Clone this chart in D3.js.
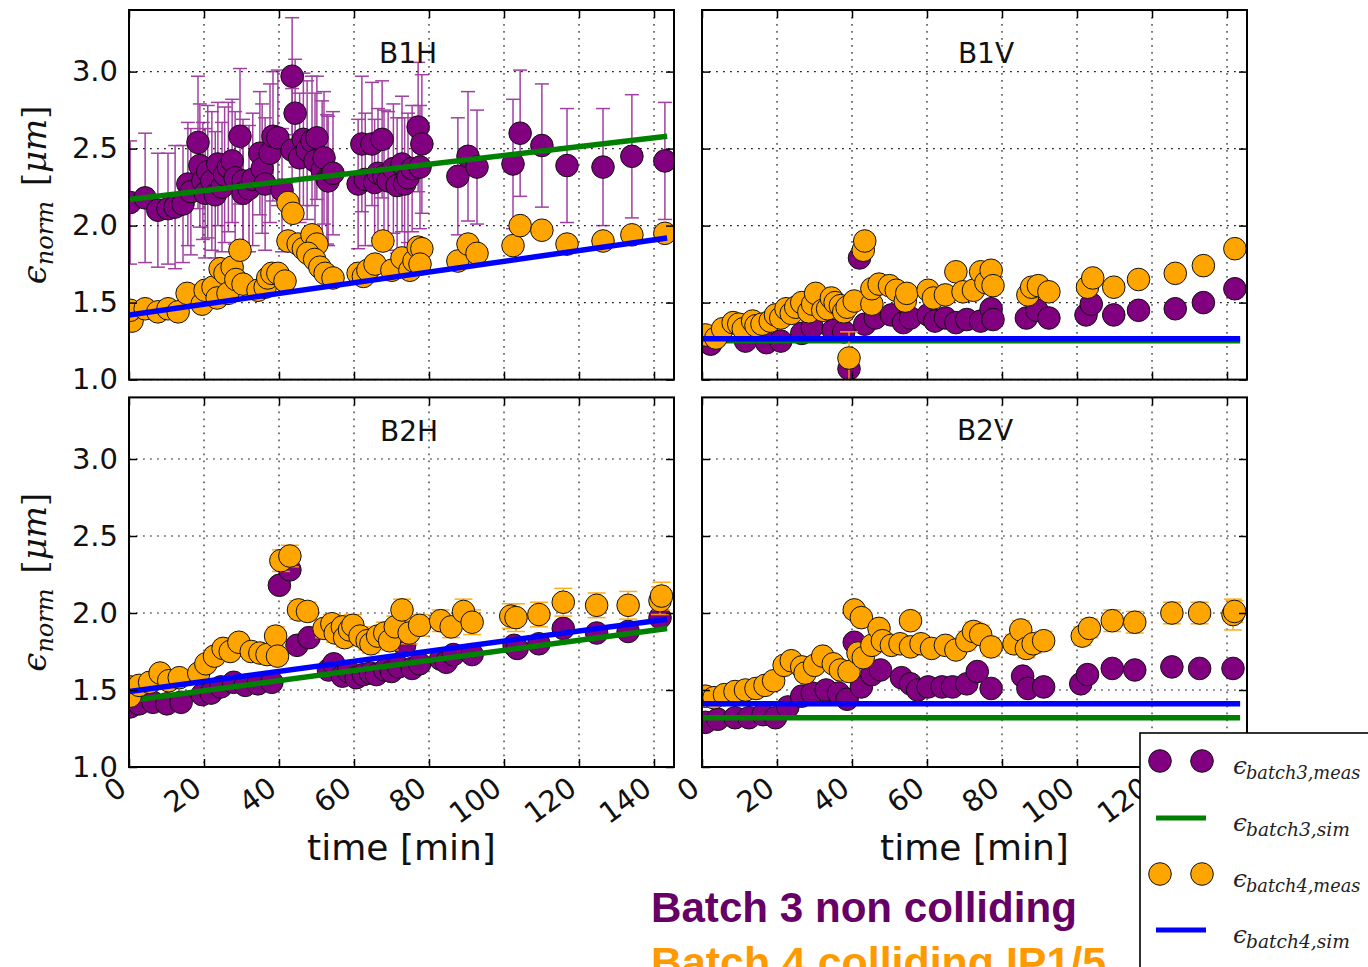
<!DOCTYPE html>
<html><head><meta charset="utf-8">
<script src="https://cdn.jsdelivr.net/npm/d3@7/dist/d3.min.js"></script>
<style>body{margin:0;background:#fff;} svg{display:block;}</style>
</head><body>
<script>
// ---------- data ----------
const timeTicks = [0, 20, 40, 60, 80, 100, 120, 140];
const yTicks = [1.0, 1.5, 2.0, 2.5, 3.0];
const panelNames = ["B1H", "B1V", "B2H", "B2V"];
const legendLabels = [["batch3,meas"], ["batch3,sim"], ["batch4,meas"], ["batch4,sim"]];
const simTime = [0, 143.5];

// [time (min), emittance (um), error]
const b1h_batch3 = [[0.3,2.15,0.40],[4.3,2.18,0.42],[7.7,2.10,0.37],[10.4,2.11,0.36],[12.3,2.12,0.40],[14.4,2.14,0.38],[15.7,2.27,0.40],[16.5,2.22,0.41],[18.4,2.54,0.43],[18.9,2.39,0.40],[19.7,2.29,0.38],[20.3,2.21,0.42],[21.0,2.35,0.43],[22.1,2.29,0.45],[23.0,2.20,0.41],[23.7,2.40,0.40],[24.8,2.25,0.42],[25.5,2.33,0.44],[26.5,2.38,0.42],[27.5,2.42,0.40],[28.3,2.31,0.43],[29.6,2.58,0.44],[30.4,2.29,0.40],[30.4,2.21,0.38],[32.0,2.24,0.41],[33.0,2.30,0.43],[34.9,2.47,0.40],[35.5,2.37,0.42],[36.3,2.27,0.43],[37.6,2.47,0.45],[38.4,2.58,0.42],[39.7,2.57,0.44],[40.8,2.23,0.40],[43.5,2.49,0.40],[43.5,2.97,0.38],[44.3,2.73,0.35],[45.5,2.44,0.42],[46.5,2.56,0.43],[47.5,2.49,0.45],[48.8,2.55,0.42],[50.1,2.57,0.40],[49.6,2.42,0.44],[51.5,2.36,0.45],[52.0,2.44,0.43],[52.8,2.30,0.42],[53.1,2.29,0.42],[54.4,2.34,0.40],[61.1,2.27,0.42],[62.1,2.53,0.44],[63.0,2.30,0.43],[64.8,2.53,0.40],[65.5,2.28,0.41],[67.5,2.56,0.38],[66.4,2.34,0.42],[68.0,2.32,0.43],[69.1,2.29,0.45],[70.5,2.37,0.42],[71.5,2.26,0.44],[72.8,2.40,0.44],[73.5,2.27,0.43],[74.4,2.31,0.42],[75.5,2.37,0.41],[77.1,2.64,0.42],[78.1,2.53,0.45],[77.6,2.38,0.40],[87.7,2.32,0.38],[90.4,2.45,0.42],[92.8,2.38,0.37],[102.4,2.40,0.42],[104.3,2.60,0.41],[110.1,2.52,0.40],[116.8,2.39,0.37],[126.4,2.38,0.38],[134.1,2.45,0.40],[142.9,2.42,0.38]];
const b1h_batch4 = [[0.8,1.38,0.02],[0.3,1.45,0.02],[4.3,1.46,0.02],[7.7,1.44,0.02],[10.4,1.46,0.02],[13.1,1.44,0.02],[15.5,1.56,0.02],[19.5,1.49,0.02],[20.3,1.58,0.02],[22.4,1.60,0.02],[23.5,1.53,0.02],[24.3,1.72,0.02],[25.6,1.69,0.02],[27.5,1.73,0.02],[26.4,1.56,0.02],[28.5,1.65,0.02],[29.6,1.84,0.02],[30.4,1.62,0.02],[34.4,1.58,0.02],[36.3,1.60,0.02],[37.0,1.66,0.02],[38.1,1.69,0.02],[39.7,1.69,0.02],[41.6,1.64,0.02],[42.4,2.15,0.02],[43.7,2.08,0.02],[42.4,1.90,0.02],[45.1,1.88,0.02],[46.5,1.85,0.02],[48.8,1.94,0.02],[50.1,1.88,0.02],[47.7,1.82,0.02],[49.5,1.78,0.02],[50.9,1.73,0.02],[52.3,1.69,0.02],[54.4,1.66,0.02],[61.1,1.69,0.02],[62.5,1.67,0.02],[63.7,1.71,0.02],[65.6,1.75,0.02],[67.7,1.90,0.02],[70.1,1.71,0.02],[72.8,1.79,0.02],[74.9,1.71,0.02],[76.0,1.77,0.02],[77.1,1.86,0.02],[78.1,1.85,0.02],[77.6,1.75,0.02],[87.7,1.77,0.02],[90.4,1.88,0.02],[92.8,1.82,0.02],[102.4,1.87,0.02],[104.3,2.00,0.02],[110.1,1.97,0.02],[116.8,1.88,0.02],[126.4,1.90,0.02],[134.1,1.94,0.02],[142.9,1.95,0.02]];
const b1v_batch3 = [[2.3,1.23,0.04],[11.6,1.25,0.04],[17.2,1.24,0.04],[21.0,1.25,0.04],[26.6,1.30,0.04],[29.4,1.34,0.04],[35.0,1.32,0.04],[37.8,1.31,0.04],[39.2,1.07,0.04],[42.0,1.79,0.05],[43.4,1.36,0.04],[46.2,1.40,0.04],[50.5,1.42,0.04],[53.7,1.37,0.04],[55.6,1.40,0.04],[60.3,1.42,0.04],[62.1,1.38,0.04],[64.9,1.40,0.04],[67.7,1.37,0.04],[70.6,1.39,0.04],[74.3,1.38,0.04],[77.1,1.46,0.04],[77.6,1.39,0.04],[86.5,1.40,0.04],[89.3,1.45,0.04],[92.5,1.40,0.04],[102.4,1.42,0.04],[103.8,1.49,0.04],[109.8,1.42,0.04],[116.4,1.45,0.04],[126.2,1.46,0.04],[133.7,1.50,0.04],[142.1,1.59,0.04]];
const b1v_batch4 = [[0.9,1.29,0.02],[3.7,1.27,0.02],[5.5,1.33,0.02],[8.3,1.37,0.02],[9.8,1.36,0.02],[11.0,1.33,0.02],[13.5,1.38,0.02],[14.4,1.35,0.02],[16.0,1.36,0.02],[18.2,1.38,0.02],[19.6,1.42,0.02],[21.0,1.40,0.02],[22.4,1.46,0.02],[23.8,1.43,0.02],[25.0,1.47,0.02],[26.6,1.50,0.02],[28.5,1.44,0.02],[29.5,1.49,0.02],[30.3,1.56,0.02],[32.2,1.45,0.02],[33.5,1.46,0.02],[34.5,1.53,0.02],[35.5,1.50,0.02],[36.9,1.48,0.02],[37.8,1.44,0.02],[38.7,1.47,0.02],[39.2,1.14,0.17],[40.6,1.51,0.02],[43.0,1.84,0.02],[43.4,1.90,0.02],[45.3,1.49,0.02],[45.3,1.59,0.02],[47.2,1.62,0.02],[50.0,1.61,0.02],[51.8,1.58,0.02],[54.2,1.51,0.02],[54.6,1.56,0.02],[60.3,1.58,0.02],[61.7,1.53,0.02],[64.9,1.55,0.02],[67.7,1.70,0.02],[69.6,1.57,0.02],[72.4,1.58,0.02],[74.3,1.70,0.02],[75.7,1.63,0.02],[77.1,1.71,0.02],[77.6,1.61,0.02],[86.9,1.55,0.02],[87.9,1.60,0.02],[89.7,1.61,0.02],[92.5,1.57,0.02],[102.8,1.60,0.02],[104.2,1.66,0.02],[109.8,1.60,0.02],[116.4,1.65,0.02],[126.2,1.69,0.02],[133.7,1.74,0.02],[142.1,1.85,0.02]];
const b2h_batch3 = [[0.3,1.39,0.04],[2.7,1.41,0.04],[6.4,1.42,0.04],[10.1,1.41,0.04],[13.9,1.42,0.04],[19.5,1.47,0.04],[21.9,1.48,0.04],[24.5,1.52,0.04],[27.9,1.55,0.04],[31.0,1.53,0.04],[34.4,1.54,0.04],[38.1,1.55,0.04],[40.1,2.18,0.05],[42.9,2.28,0.05],[44.8,1.79,0.04],[48.0,1.84,0.04],[53.2,1.63,0.04],[54.6,1.67,0.04],[56.9,1.59,0.04],[58.5,1.62,0.04],[60.6,1.58,0.04],[62.5,1.60,0.04],[64.4,1.61,0.04],[66.0,1.60,0.04],[68.2,1.63,0.04],[70.0,1.62,0.04],[71.9,1.65,0.04],[73.5,1.79,0.04],[75.5,1.64,0.04],[77.5,1.67,0.04],[83.1,1.70,0.04],[84.6,1.68,0.04],[86.5,1.73,0.04],[91.5,1.73,0.04],[102.7,1.79,0.04],[103.5,1.77,0.04],[109.3,1.80,0.04],[115.8,1.90,0.04],[124.7,1.87,0.04],[133.1,1.88,0.04],[141.6,1.97,0.04]];
const b2h_batch4 = [[0.3,1.52,0.03],[0.3,1.46,0.03],[2.7,1.53,0.03],[5.5,1.55,0.03],[8.3,1.61,0.04],[10.6,1.56,0.03],[13.4,1.58,0.03],[18.6,1.61,0.04],[20.5,1.67,0.04],[22.8,1.72,0.05],[25.1,1.77,0.05],[27.0,1.75,0.05],[29.3,1.81,0.05],[32.6,1.75,0.05],[34.9,1.74,0.05],[36.8,1.73,0.05],[39.1,1.85,0.06],[39.6,1.72,0.05],[40.5,2.34,0.07],[42.9,2.37,0.07],[45.2,2.02,0.06],[47.6,2.01,0.06],[52.0,1.90,0.06],[54.1,1.93,0.06],[55.0,1.87,0.06],[56.9,1.91,0.07],[57.5,1.84,0.06],[58.8,1.89,0.07],[59.7,1.92,0.07],[61.6,1.85,0.06],[63.5,1.82,0.06],[64.5,1.80,0.06],[66.3,1.85,0.06],[68.2,1.87,0.07],[69.5,1.82,0.06],[71.0,1.91,0.07],[72.8,2.02,0.07],[74.7,1.87,0.07],[77.5,1.92,0.07],[83.1,1.95,0.07],[85.9,1.91,0.07],[89.2,2.01,0.08],[91.5,1.94,0.08],[101.8,1.98,0.08],[103.2,1.97,0.09],[109.3,1.99,0.08],[115.8,2.07,0.09],[124.7,2.05,0.08],[133.1,2.05,0.09],[141.6,2.08,0.09],[142.0,2.11,0.09]];
const b2v_batch3 = [[0.9,1.29,0.04],[4.2,1.31,0.04],[8.8,1.32,0.04],[12.5,1.32,0.04],[16.3,1.34,0.04],[19.6,1.32,0.04],[22.9,1.39,0.04],[26.6,1.46,0.04],[29.4,1.48,0.04],[33.1,1.50,0.04],[36.4,1.48,0.04],[38.7,1.44,0.04],[40.6,1.81,0.04],[42.5,1.52,0.04],[45.3,1.60,0.04],[47.6,1.63,0.04],[53.2,1.58,0.04],[55.6,1.54,0.04],[57.5,1.50,0.04],[60.3,1.52,0.04],[64.0,1.52,0.04],[66.8,1.52,0.04],[70.6,1.54,0.04],[73.4,1.62,0.04],[77.1,1.51,0.04],[85.5,1.59,0.04],[86.9,1.51,0.04],[91.1,1.52,0.04],[101.0,1.54,0.04],[102.8,1.60,0.04],[109.4,1.64,0.04],[115.4,1.63,0.04],[125.3,1.65,0.04],[132.7,1.64,0.04],[141.6,1.64,0.04]];
const b2v_batch4 = [[0.9,1.46,0.02],[3.2,1.45,0.02],[6.0,1.47,0.02],[8.8,1.49,0.02],[11.6,1.50,0.03],[14.4,1.51,0.03],[16.8,1.53,0.03],[19.1,1.56,0.03],[21.9,1.66,0.04],[23.8,1.69,0.04],[26.6,1.65,0.04],[27.5,1.61,0.04],[30.0,1.66,0.04],[32.2,1.72,0.04],[35.0,1.67,0.04],[36.9,1.63,0.04],[39.2,1.62,0.04],[40.6,2.02,0.05],[41.6,1.74,0.04],[42.5,1.97,0.05],[43.0,1.71,0.04],[45.3,1.79,0.05],[47.2,1.90,0.05],[48.1,1.82,0.05],[50.5,1.79,0.05],[52.8,1.80,0.05],[55.6,1.95,0.05],[55.6,1.78,0.05],[58.4,1.80,0.05],[61.2,1.77,0.05],[64.9,1.79,0.05],[67.7,1.76,0.05],[70.6,1.82,0.06],[72.4,1.88,0.06],[74.3,1.86,0.06],[77.1,1.78,0.06],[83.2,1.80,0.06],[85.0,1.89,0.06],[86.5,1.77,0.06],[88.3,1.80,0.06],[91.1,1.82,0.06],[101.4,1.85,0.06],[103.3,1.90,0.06],[109.4,1.95,0.07],[115.4,1.94,0.07],[125.3,2.00,0.07],[132.7,2.00,0.07],[141.6,1.99,0.10],[142.0,2.01,0.07]];

const b1h_sim3 = [2.17, 2.58], b1h_sim4 = [1.42, 1.92];
const b1v_sim3 = [1.253, 1.253], b1v_sim4 = [1.265, 1.265];
const b2h_sim3 = [1.43, 1.90], b2h_sim4 = [1.49, 1.96];
const b2v_sim3 = [1.32, 1.32], b2v_sim4 = [1.41, 1.41];

const note1 = "Batch 3 non colliding";
const note2 = "Batch 4 colliding IP1/5";

// ---------- style ----------
const C3 = "#800080", C4 = "#FFA500", CG = "#008000", CB = "#0000FF";
const SANS = "'DejaVu Sans', sans-serif";
const SERIF = "'DejaVu Serif', 'Liberation Serif', serif";

const W = 1368, H = 967;
const PW = 545, PH = 369.6;
const svg = d3.select("body").append("svg").attr("width", W).attr("height", H)
  .style("background", "#fff");

const x = d3.scaleLinear().domain([0, 145.33]).range([0, PW]);
const y = d3.scaleLinear().domain([1.0, 3.4]).range([PH, 0]);

const panels = [
  {name: panelNames[0], ox: 129, oy: 10, b3: b1h_batch3, b4: b1h_batch4, s3: b1h_sim3, s4: b1h_sim4, showY: true, showX: false, tdx: 279, tdy: 43},
  {name: panelNames[1], ox: 702, oy: 10, b3: b1v_batch3, b4: b1v_batch4, s3: b1v_sim3, s4: b1v_sim4, showY: false, showX: false, tdx: 284, tdy: 43},
  {name: panelNames[2], ox: 129, oy: 397.4, b3: b2h_batch3, b4: b2h_batch4, s3: b2h_sim3, s4: b2h_sim4, showY: true, showX: true, tdx: 280, tdy: 34},
  {name: panelNames[3], ox: 702, oy: 397.4, b3: b2v_batch3, b4: b2v_batch4, s3: b2v_sim3, s4: b2v_sim4, showY: false, showX: true, tdx: 283, tdy: 33},
];

function drawErr(g, data, color, cap, op) {
  const eg = g.append("g").attr("stroke", color).attr("stroke-width", 1.5).attr("opacity", op);
  eg.selectAll("line.v").data(data).join("line")
    .attr("x1", d => x(d[0])).attr("x2", d => x(d[0]))
    .attr("y1", d => y(d[1] - d[2])).attr("y2", d => y(d[1] + d[2]));
  eg.selectAll("line.t").data(data).join("line")
    .attr("x1", d => x(d[0]) - cap).attr("x2", d => x(d[0]) + cap)
    .attr("y1", d => y(d[1] + d[2])).attr("y2", d => y(d[1] + d[2]));
  eg.selectAll("line.b").data(data).join("line")
    .attr("x1", d => x(d[0]) - cap).attr("x2", d => x(d[0]) + cap)
    .attr("y1", d => y(d[1] - d[2])).attr("y2", d => y(d[1] - d[2]));
}
function drawPts(g, data, color) {
  g.append("g").selectAll("circle").data(data).join("circle")
    .attr("cx", d => x(d[0])).attr("cy", d => y(d[1])).attr("r", 11.3)
    .attr("fill", color).attr("stroke", "#111").attr("stroke-width", 1);
}
function drawSim(g, vals, color) {
  const line = d3.line().x(d => x(d[0])).y(d => y(d[1]));
  g.append("path").datum(simTime.map((t, i) => [t, vals[i]]))
    .attr("d", line).attr("fill", "none").attr("stroke", color).attr("stroke-width", 5.5);
}

panels.forEach((p, i) => {
  const g = svg.append("g").attr("transform", `translate(${p.ox},${p.oy})`);
  g.append("clipPath").attr("id", "clip" + i).append("rect").attr("width", PW).attr("height", PH);

  // grid
  const grid = g.append("g").attr("stroke", "#222").attr("stroke-width", 1.2).attr("stroke-dasharray", "1.8,5.2");
  grid.selectAll("line.gv").data(timeTicks).join("line")
    .attr("x1", d => x(d)).attr("x2", d => x(d)).attr("y1", 0).attr("y2", PH);
  grid.selectAll("line.gh").data(yTicks).join("line")
    .attr("x1", 0).attr("x2", PW).attr("y1", d => y(d)).attr("y2", d => y(d));

  // data
  const dg = g.append("g").attr("clip-path", `url(#clip${i})`);
  drawErr(dg, p.b3, C3, 7, 0.75);
  drawPts(dg, p.b3, C3);
  drawSim(dg, p.s3, CG);
  drawErr(dg, p.b4, C4, 9, 0.9);
  drawPts(dg, p.b4, C4);
  drawSim(dg, p.s4, CB);

  // frame
  g.append("rect").attr("width", PW).attr("height", PH)
    .attr("fill", "none").attr("stroke", "#000").attr("stroke-width", 2);

  // axes (inward ticks)
  const styleAx = a => { a.select(".domain").remove(); a.selectAll("line").attr("stroke", "#000").attr("stroke-width", 1.5); };
  const aL = g.append("g").call(d3.axisLeft(y).tickValues(yTicks).tickSize(-8).tickPadding(11)
    .tickFormat(p.showY ? d3.format(".1f") : ""));
  styleAx(aL);
  aL.selectAll("text").style("font-family", SANS).style("font-size", "29px").attr("fill", "#111");
  const aR = g.append("g").attr("transform", `translate(${PW},0)`)
    .call(d3.axisRight(y).tickValues(yTicks).tickSize(-8).tickFormat(""));
  styleAx(aR);
  const aT = g.append("g").call(d3.axisTop(x).tickValues(timeTicks).tickSize(-8).tickFormat(""));
  styleAx(aT);
  const aB = g.append("g").attr("transform", `translate(0,${PH})`)
    .call(d3.axisBottom(x).tickValues(timeTicks).tickSize(-8).tickFormat(p.showX ? d3.format("d") : ""));
  styleAx(aB);
  aB.selectAll("text").attr("y", 0).attr("dy", "0.35em").attr("text-anchor", "end")
    .attr("transform", "translate(-7,17) rotate(-36)")
    .style("font-family", SANS).style("font-size", "29px").attr("fill", "#111");

  // title
  g.append("text").attr("x", p.tdx).attr("y", p.tdy).attr("text-anchor", "middle")
    .style("font-family", SANS).style("font-size", "28px").attr("fill", "#111")
    .attr("dy", "0.36em").text(p.name);

  // x label
  if (p.showX) {
    g.append("text").attr("x", PW / 2).attr("y", 860 - p.oy).attr("text-anchor", "middle")
      .style("font-family", SANS).style("font-size", "36px").attr("fill", "#111").text("time [min]");
  }
  // y label
  if (p.showY) {
    const t = svg.append("text").attr("transform", `translate(46,${p.oy + PH / 2}) rotate(-90)`)
      .attr("text-anchor", "middle").style("font-family", SERIF).attr("fill", "#111");
    t.append("tspan").text("ϵ").style("font-size", "34px").style("font-style", "italic");
    t.append("tspan").text("norm").style("font-size", "24px").style("font-style", "italic").attr("dy", 7);
    t.append("tspan").text(" [").style("font-size", "34px").attr("dy", -7).attr("dx", 4);
    t.append("tspan").text("μm").style("font-size", "34px").style("font-style", "italic");
    t.append("tspan").text("]").style("font-size", "34px");
  }
});

// ---------- legend ----------
const lg = svg.append("g");
lg.append("rect").attr("x", 1140).attr("y", 733).attr("width", 240).attr("height", 250)
  .attr("fill", "#fff").attr("stroke", "#000").attr("stroke-width", 1.6);
const legendItems = [
  {type: "pt", color: C3, y: 761, lab: legendLabels[0][0]},
  {type: "ln", color: CG, y: 818, lab: legendLabels[1][0]},
  {type: "pt", color: C4, y: 874, lab: legendLabels[2][0]},
  {type: "ln", color: CB, y: 930, lab: legendLabels[3][0]},
];
legendItems.forEach(it => {
  if (it.type === "pt") {
    [1160, 1202].forEach(cx => lg.append("circle").attr("cx", cx).attr("cy", it.y).attr("r", 11.3)
      .attr("fill", it.color).attr("stroke", "#111").attr("stroke-width", 1));
  } else {
    lg.append("line").attr("x1", 1156).attr("x2", 1206).attr("y1", it.y).attr("y2", it.y)
      .attr("stroke", it.color).attr("stroke-width", 5);
  }
  lg.append("text").attr("x", 1233).attr("y", it.y + 13).style("font-family", SERIF)
    .style("font-style", "italic").style("font-size", "25px").attr("fill", "#222").text("ϵ");
  lg.append("text").attr("x", 1246).attr("y", it.y + 18).style("font-family", SERIF)
    .style("font-style", "italic").style("font-size", "19px").attr("fill", "#222")
    .attr("textLength", it.lab.length * 10.4).attr("lengthAdjust", "spacingAndGlyphs").text(it.lab);
});

// ---------- notes ----------
svg.append("text").attr("x", 651).attr("y", 922).attr("textLength", 426).attr("lengthAdjust", "spacingAndGlyphs")
  .style("font-family", "'Liberation Sans', Arial, sans-serif").style("font-weight", "bold")
  .style("font-size", "42px").attr("fill", "#660066").text(note1);
svg.append("text").attr("x", 651).attr("y", 977).attr("textLength", 455).attr("lengthAdjust", "spacingAndGlyphs")
  .style("font-family", "'Liberation Sans', Arial, sans-serif").style("font-weight", "bold")
  .style("font-size", "42px").attr("fill", "#FF9900").text(note2);
</script>
</body></html>
